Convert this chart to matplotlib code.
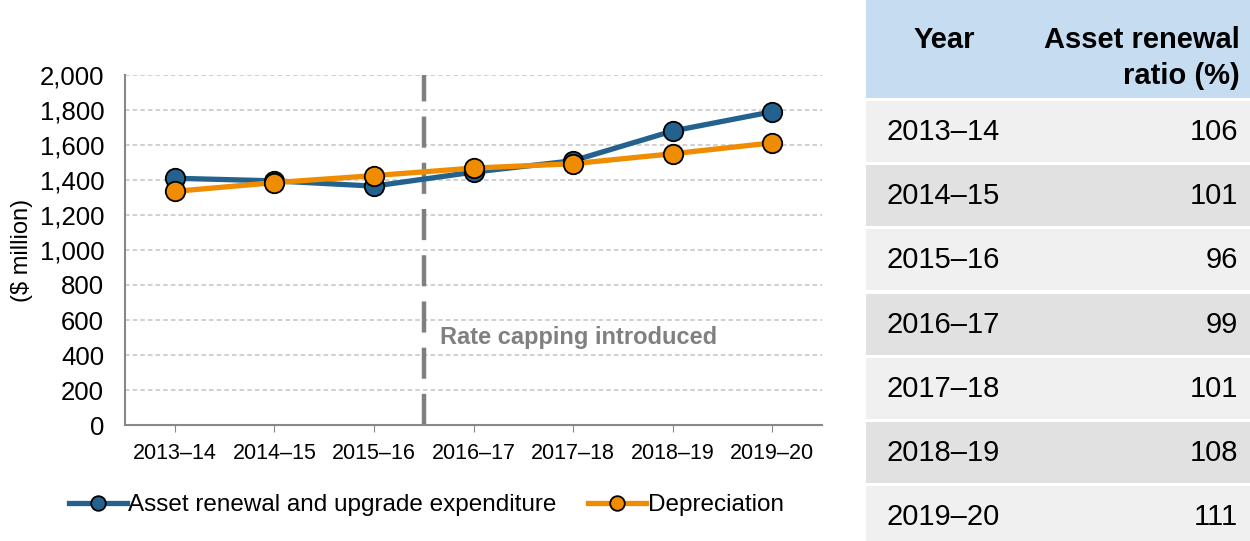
import matplotlib
matplotlib.use("Agg")
from matplotlib import pyplot as plt
from matplotlib.patches import Rectangle

years = ['2013–14', '2014–15', '2015–16', '2016–17', '2017–18', '2018–19', '2019–20']
renewal = [1410, 1395, 1365, 1445, 1510, 1680, 1790]
depreciation = [1335, 1385, 1425, 1468, 1493, 1550, 1612]
ratio = [106, 101, 96, 99, 101, 108, 111]

blue = '#23628f'
orange = '#ef8c00'

plt.rcParams['font.family'] = ['Liberation Sans', 'DejaVu Sans']

fig = plt.figure(figsize=(12.5, 5.41), dpi=100)

# line chart
ax = fig.add_axes([0.1, 0.2144, 0.5576, 0.647])
x = range(len(years))
ax.plot(x, renewal, color=blue, lw=3.8, marker='o', ms=14, mfc=blue, mec='black', mew=1.3,
        label='Asset renewal and upgrade expenditure', zorder=3)
ax.plot(x, depreciation, color=orange, lw=3.8, marker='o', ms=14, mfc=orange, mec='black', mew=1.3,
        label='Depreciation', zorder=4)
ax.plot([2.5, 2.5], [0, 2000], color='#7f7f7f', lw=3.2, dashes=(7, 3.4), zorder=2)
ax.text(2.66, 500, 'Rate capping introduced', color='#808080', fontsize=17, fontweight='bold',
        va='center', ha='left')

ax.set_xlim(-0.5, 6.5)
ax.set_ylim(0, 2000)
ax.set_yticks(range(0, 2001, 200))
ax.set_yticklabels([f'{v:,}' for v in range(0, 2001, 200)])
ax.set_xticks(list(x))
ax.set_xticklabels(years)
ax.tick_params(axis='x', labelsize=15.5, length=5, color='#888888', pad=8)
ax.tick_params(axis='y', labelsize=18.5, length=0, pad=15)
ax.yaxis.grid(True, color='#c4c4c4', ls=(0, (3, 2)), lw=1.1)
ax.set_axisbelow(True)
for s in ['top', 'right']:
    ax.spines[s].set_visible(False)
for s in ['left', 'bottom']:
    ax.spines[s].set_color('#888888')
    ax.spines[s].set_linewidth(1.5)
ax.set_ylabel('($ million)', fontsize=17, labelpad=5)

ax.legend(loc='upper center', bbox_to_anchor=(0.432, -0.17), ncol=2, frameon=False, fontsize=17.5,
          handlelength=2.4, handletextpad=0.05, columnspacing=1.3, borderaxespad=0, markerscale=0.75)

# table
tx = fig.add_axes([866 / 1250, 0, 384 / 1250, 1])
tx.set_xlim(0, 384)
tx.set_ylim(541, 0)
tx.axis('off')
tx.add_patch(Rectangle((0, 0), 384, 98, color='#c6ddf1', lw=0))
tx.text(78, 40, 'Year', fontsize=21, fontweight='bold', ha='center', va='center')
tx.text(374, 40, 'Asset renewal', fontsize=21, fontweight='bold', ha='right', va='center')
tx.text(374, 76, 'ratio (%)', fontsize=21, fontweight='bold', ha='right', va='center')
for i, (yr, r) in enumerate(zip(years, ratio)):
    top = 101 + i * 64.2
    tx.add_patch(Rectangle((0, top), 384, 61, color='#f0f0f0' if i % 2 == 0 else '#e1e1e1', lw=0))
    tx.text(20, top + 31, yr, fontsize=21, ha='left', va='center')
    tx.text(372, top + 31, str(r), fontsize=21, ha='right', va='center')

fig.savefig('out.png', dpi=100)
